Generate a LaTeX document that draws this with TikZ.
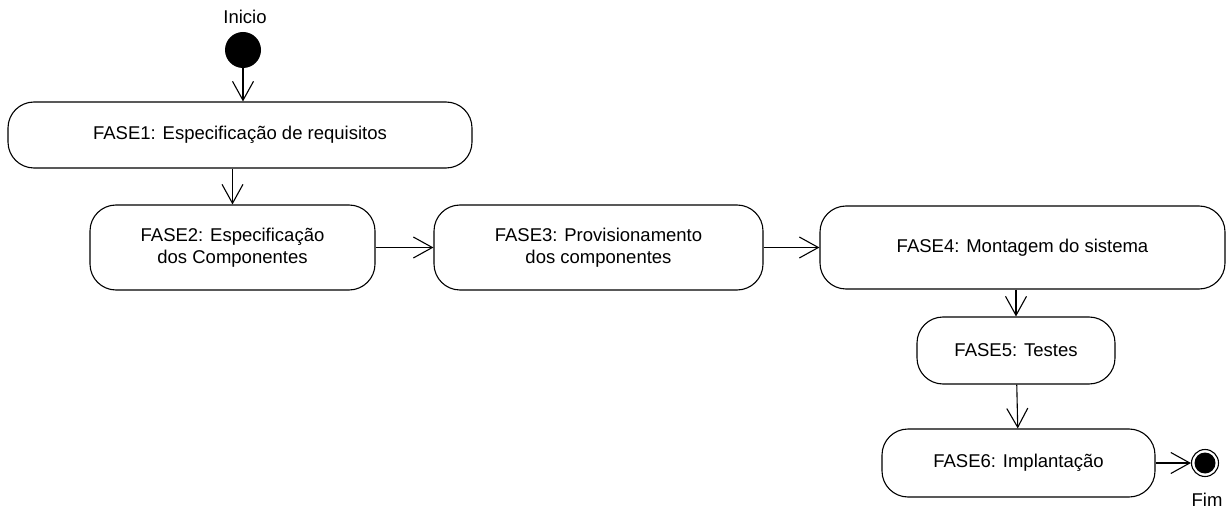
\documentclass[tikz,border=0pt]{standalone}
\usepackage{fontspec}
\setmainfont{Liberation Sans}
\usetikzlibrary{arrows.meta}

\tikzset{
  fase/.style={draw, line width=1.1pt, rounded corners=26pt, align=center,
    font=\fontsize{18.5}{22}\selectfont, inner sep=0pt},
  flow/.style={line width=1.1pt, -{Straight Barb[length=19pt,width=21pt,line width=1.1pt]}},
  inicio/.style={circle, fill=black, minimum size=36pt, inner sep=0pt},
  fim/.style={circle, draw, line width=1.1pt, minimum size=27pt, inner sep=0pt,
    path picture={\fill[black] (path picture bounding box.center) circle (10.5pt);}},
  rotulo/.style={font=\fontsize{18.5}{22}\selectfont, inner sep=0pt}
}

\begin{document}
\begin{tikzpicture}[x=1pt, y=-1pt]
  \useasboundingbox (0,0) rectangle (1230,510);

  % estados inicial e final
  \node[inicio] (ini) at (243,50) {};
  \node[rotulo] (lini) at (245,17) {Inicio};
  \node[fim] (fim) at (1205,463) {};
  \node[rotulo] (lfim) at (1207,500) {Fim};

  % fases
  \node[fase, minimum width=464pt, minimum height=66pt] (fase1) at (240,135)
    {FASE1: Especificação de requisitos};
  \node[fase, minimum width=285pt, minimum height=85pt] (fase2) at (232.5,247.5)
    {FASE2: Especificação\\dos Componentes};
  \node[fase, minimum width=329pt, minimum height=85pt] (fase3) at (598.5,247.5)
    {FASE3: Provisionamento\\dos componentes};
  \node[fase, minimum width=405pt, minimum height=83pt] (fase4) at (1022.5,247.5)
    {FASE4: Montagem do sistema};
  \node[fase, minimum width=198pt, minimum height=67pt] (fase5) at (1016,350.5)
    {FASE5: Testes};
  \node[fase, minimum width=273pt, minimum height=68pt] (fase6) at (1018.5,463)
    {FASE6: Implantação};

  % transicoes
  \draw[flow] (ini) -- (ini |- fase1.north);
  \draw[flow] (fase1.south -| fase2.north) -- (fase2.north);
  \draw[flow] (fase2) -- (fase3);
  \draw[flow] (fase3) -- (fase4);
  \draw[flow] (fase4.south -| fase5.north) -- (fase5.north);
  \draw[flow] (fase5) -- (fase6);
  \draw[flow] (fase6) -- (fim);
\end{tikzpicture}
\end{document}
